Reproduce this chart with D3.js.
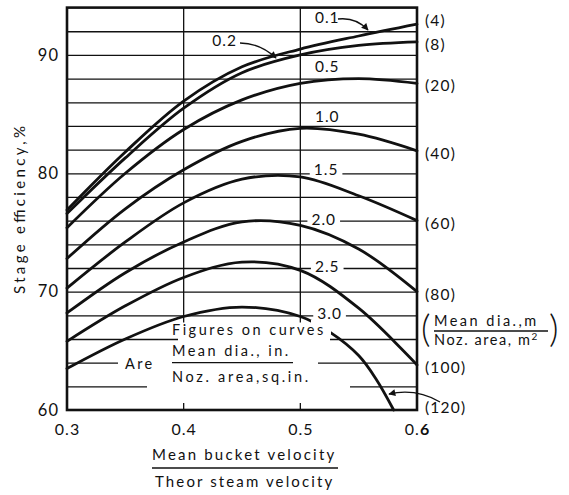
<!DOCTYPE html>
<html><head><meta charset="utf-8">
<script src="https://cdn.jsdelivr.net/npm/d3@7"></script>
<style>
html,body{margin:0;padding:0;background:#fff;}
svg{display:block;font-family:Lato,"Open Sans",sans-serif;}
text{fill:#111;}
</style></head><body>
<svg id="chart" width="569" height="495"></svg>
<script>
// ---------------- data ----------------
const xTickValues = [0.3, 0.4, 0.5, 0.6];
const xTickLabels = ["0.3", "0.4", "0.5", "0.6"];
const yTickValues = [60, 70, 80, 90];
const yTickLabels = ["60", "70", "80", "90"];
const gridValues = [62, 64, 66, 68, 70, 72, 74, 76, 78, 80, 82, 84, 86, 88, 90, 92];
const curveNames = ["0.1", "0.2", "0.5", "1.0", "1.5", "2.0", "2.5", "3.0"];
const metricNames = ["(4)", "(8)", "(20)", "(40)", "(60)", "(80)", "(100)", "(120)"];
const velocityRatio = [0.30, 0.35, 0.40, 0.45, 0.50, 0.55, 0.60];
const eff01 = [76.9, 81.8, 86.1, 89.0, 90.5, 91.6, 92.6];
const eff02 = [76.6, 81.3, 85.5, 88.5, 90.0, 90.8, 91.1];
const eff05 = [75.4, 80.0, 83.7, 86.2, 87.6, 88.0, 87.6];
const eff10 = [72.8, 77.0, 80.3, 82.7, 83.8, 83.3, 81.9];
const eff15 = [70.3, 74.2, 77.5, 79.5, 79.7, 78.1, 76.0];
const eff20 = [68.2, 71.6, 74.2, 75.9, 75.6, 73.6, 70.0];
const eff25 = [65.8, 68.8, 71.2, 72.5, 71.8, 68.6, 63.8];
const velocityRatio30 = [0.30, 0.35, 0.40, 0.45, 0.50, 0.525, 0.55, 0.565, 0.58];
const eff30 = [63.5, 66.0, 67.9, 68.7, 67.9, 66.6, 64.6, 62.6, 60.0];

const seriesX = [velocityRatio, velocityRatio, velocityRatio, velocityRatio, velocityRatio, velocityRatio, velocityRatio, velocityRatio30];
const seriesY = [eff01, eff02, eff05, eff10, eff15, eff20, eff25, eff30];

// ---------------- layout ----------------
const svg = d3.select("#chart");
const L = 67, R = 417, T = 7.6, B = 410;
const x = d3.scaleLinear().domain([0.3, 0.6]).range([L, R]);
const y = d3.scaleLinear().domain([60, 94]).range([B, T]);
const ink = "#111";

const gGrid = svg.append("g");
const gMask = svg.append("g");
const gCurves = svg.append("g");
const gMask2 = svg.append("g");
const gText = svg.append("g");

// horizontal gridlines via axis
const gridAxis = d3.axisLeft(y).tickValues(gridValues).tickSize(-(R - L)).tickFormat("");
gGrid.append("g").attr("transform", `translate(${L},0)`).call(gridAxis)
  .call(g => g.select(".domain").remove())
  .call(g => g.selectAll("line").attr("stroke", ink).attr("stroke-width", 1.3));

// vertical gridlines at 0.4 and 0.5 (stop above the note)
[0.4, 0.5].forEach(v => {
  gGrid.append("line").attr("x1", x(v)).attr("x2", x(v)).attr("y1", T).attr("y2", y(67.4))
    .attr("stroke", ink).attr("stroke-width", 1.3);
  gGrid.append("line").attr("x1", x(v)).attr("x2", x(v)).attr("y1", B).attr("y2", B - 7)
    .attr("stroke", ink).attr("stroke-width", 1.3);
});

// ---------------- text helpers ----------------
function txt(parent, s, px, py, opts = {}) {
  const t = parent.append("text").attr("x", px).attr("y", py)
    .attr("font-size", opts.size || 15)
    .attr("text-anchor", opts.anchor || "start")
    .attr("dominant-baseline", "middle")
    .attr("letter-spacing", opts.ls != null ? opts.ls : 0.8)
    .text(s);
  if (opts.len) t.attr("textLength", opts.len).attr("lengthAdjust", "spacing");
  return t;
}
function knock(t, padX = 3, padY = 2, layer = gMask) {
  const b = t.node().getBBox();
  layer.append("rect").attr("x", b.x - padX).attr("y", b.y + 3 - padY)
    .attr("width", b.width + 2 * padX).attr("height", b.height - 6 + 2 * padY).attr("fill", "#fff");
}

// ---------------- curve labels ----------------
const labelAnchor = [[0.5125, 93.0], [0.4245, 91.1], [0.5125, 88.9], [0.5125, 84.7],
                     [0.5115, 80.2], [0.5095, 76.0], [0.5125, 72.0], [0.5145, 68.0]];
curveNames.forEach((n, i) => {
  const t = txt(gText, n, x(labelAnchor[i][0]), y(labelAnchor[i][1]), {size: 15.5, ls: 1});
  if (i >= 4) knock(t, 4, 1);
});

// ---------------- note block ----------------
const noteX = 172;
const n1 = txt(gText, "Figures on curves", noteX, 331, {size: 14.5, len: 152});
const n2 = txt(gText, "Mean dia., in.", noteX, 352, {size: 14.5, len: 117});
const n3 = txt(gText, "Noz. area,sq.in.", noteX, 378, {size: 14.5, len: 137});
const are = txt(gText, "Are", 125, 365, {size: 14.5, len: 28});
// clear gridlines behind the note
gMask.append("rect").attr("x", 178).attr("y", 334).attr("width", 152).attr("height", 12).attr("fill", "#fff");
gMask.append("rect").attr("x", 118).attr("y", 357).attr("width", 200).attr("height", 12).attr("fill", "#fff");
gMask.append("rect").attr("x", 147).attr("y", 381).attr("width", 203).attr("height", 12).attr("fill", "#fff");
gText.append("line").attr("x1", noteX).attr("x2", 293).attr("y1", y(64)).attr("y2", y(64))
  .attr("stroke", ink).attr("stroke-width", 1.3);
// break in the 3.0 curve at the word "curves"
gMask2.append("rect").attr("x", 311).attr("y", 320).attr("width", 20).attr("height", 17).attr("fill", "#fff");

// ---------------- curves ----------------
const line = d3.line().curve(d3.curveCatmullRom.alpha(0.5));
seriesY.forEach((vals, i) => {
  const pts = vals.map((v, j) => [x(seriesX[i][j]), y(v)]);
  gCurves.append("path").attr("d", line(pts)).attr("fill", "none")
    .attr("stroke", ink).attr("stroke-width", 2.8).attr("stroke-linecap", "round");
});

// ---------------- frame ----------------
gText.append("rect").attr("x", L).attr("y", T).attr("width", R - L).attr("height", B - T)
  .attr("fill", "none").attr("stroke", ink).attr("stroke-width", 2.6);

// ---------------- axes labels ----------------
const xAxis = d3.axisBottom(x).tickValues(xTickValues).tickSize(0).tickPadding(14)
  .tickFormat((d, i) => xTickLabels[i]);
const gx = gText.append("g").attr("transform", `translate(0,${B})`).call(xAxis);
gx.select(".domain").remove();
gx.selectAll("text").attr("font-size", 16).attr("font-family", "Lato, sans-serif")
  .attr("fill", ink).attr("letter-spacing", 1);
gx.selectAll(".tick").filter(d => d === 0.6).select("text").text(null)
  .call(t => { t.append("tspan").text("0."); t.append("tspan").attr("font-weight", "bold").text("6"); });

const yAxis = d3.axisLeft(y).tickValues(yTickValues).tickSize(0).tickPadding(8)
  .tickFormat((d, i) => yTickLabels[i]);
const gy = gText.append("g").attr("transform", `translate(${L},0)`).call(yAxis);
gy.select(".domain").remove();
gy.selectAll("text").attr("font-size", 16.5).attr("font-family", "Lato, sans-serif")
  .attr("fill", ink).attr("letter-spacing", 1);

// y title
gText.append("text").attr("transform", "translate(21,210) rotate(-90)")
  .attr("text-anchor", "middle").attr("dominant-baseline", "middle")
  .attr("font-size", 15).attr("textLength", 168).attr("lengthAdjust", "spacing")
  .text("Stage efficiency,%");

// x title (fraction)
txt(gText, "Mean bucket velocity", 152, 456, {size: 15, len: 183});
gText.append("line").attr("x1", 152).attr("x2", 338).attr("y1", 468).attr("y2", 468)
  .attr("stroke", ink).attr("stroke-width", 1.6);
txt(gText, "Theor steam velocity", 155, 483, {size: 15, len: 178});

// ---------------- right metric labels ----------------
metricNames.forEach((n, i) => {
  const vals = seriesY[i];
  const endV = vals[vals.length - 1];
  let py = y(endV) + 4;
  if (i === 0) py = y(endV) - 2;
  if (i === 7) py = y(endV) - 1;
  txt(gText, n, 425, py, {size: 15.5, ls: 1.2});
});
// metric unit fraction
txt(gText, "(", 421, 333, {size: 37, ls: 0}).attr("font-weight", 300);
txt(gText, ")", 549, 333, {size: 37, ls: 0}).attr("font-weight", 300);
txt(gText, "Mean dia.,m", 434, 322, {size: 14.5, len: 103});
gText.append("line").attr("x1", 434).attr("x2", 548).attr("y1", 331).attr("y2", 331)
  .attr("stroke", ink).attr("stroke-width", 1.3);
const nz = txt(gText, "Noz. area, m", 434, 341, {size: 14.5, len: 104});
nz.append("tspan").attr("font-size", 10).attr("dy", -4).text("2");

// ---------------- arrows ----------------
const defs = svg.append("defs");
defs.append("marker").attr("id", "ah").attr("viewBox", "0 0 10 10").attr("refX", 9).attr("refY", 5)
  .attr("markerWidth", 9).attr("markerHeight", 7).attr("orient", "auto-start-reverse")
  .attr("markerUnits", "userSpaceOnUse")
  .append("path").attr("d", "M0,0 L10,5 L0,10 z").attr("fill", ink);
const arrows = [
  "M338,19 Q356,17 368,30",
  "M240,43 Q260,43 276,58",
  "M440,402 Q416,388 389,394"
];
arrows.forEach(d => gText.append("path").attr("d", d).attr("fill", "none")
  .attr("stroke", ink).attr("stroke-width", 1.3).attr("marker-end", "url(#ah)"));
</script>
</body></html>
